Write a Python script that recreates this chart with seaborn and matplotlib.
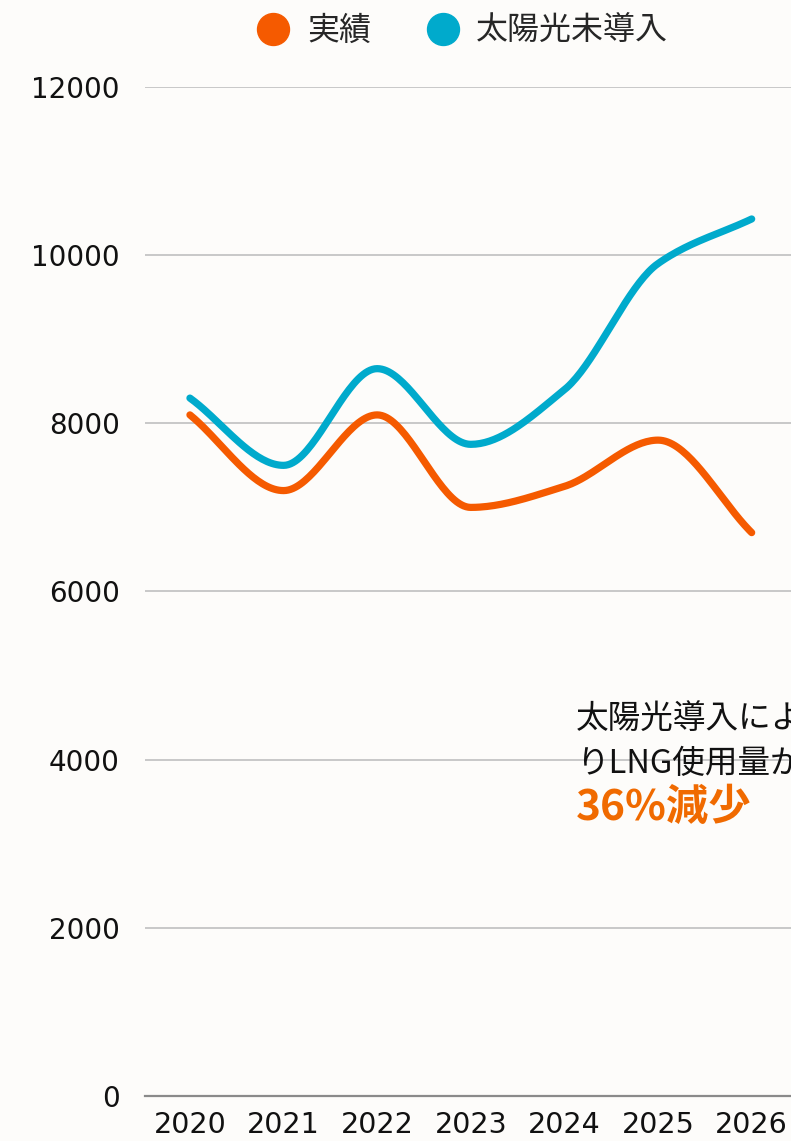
import numpy as np
import pandas as pd
import matplotlib
matplotlib.use("Agg")
import matplotlib.pyplot as plt
from matplotlib.lines import Line2D
import seaborn as sns

# データ
years = [2020, 2021, 2022, 2023, 2024, 2025, 2026]
jisseki = [8100, 7200, 8100, 7000, 7250, 7800, 6700]
minounyu = [8300, 7500, 8650, 7750, 8400, 9900, 10430]
series_names = ["実績", "太陽光未導入"]
colors = ["#F55A00", "#00AACC"]
note_lines = ["太陽光導入によ", "りLNG使用量が"]
note_big = "36%減少"
y_ticks = [0, 2000, 4000, 6000, 8000, 10000, 12000]

bg = "#FDFCFA"

sns.set_theme(style="white")
plt.rcParams["font.family"] = ["DejaVu Sans", "Noto Sans CJK JP"]


def pchip(x, y, n=40):
    # monotone cubic pour lisser la courbe
    x = np.asarray(x, float)
    y = np.asarray(y, float)
    h = np.diff(x)
    d = np.diff(y) / h
    m = np.zeros_like(y)
    for i in range(1, len(y) - 1):
        if d[i - 1] * d[i] > 0:
            w1 = 2 * h[i] + h[i - 1]
            w2 = h[i] + 2 * h[i - 1]
            m[i] = (w1 + w2) / (w1 / d[i - 1] + w2 / d[i])
    m[0] = d[0]
    m[-1] = d[-1]
    xs, ys = [], []
    for i in range(len(h)):
        t = np.linspace(0, 1, n, endpoint=(i == len(h) - 1))
        h00 = 2 * t**3 - 3 * t**2 + 1
        h10 = t**3 - 2 * t**2 + t
        h01 = -2 * t**3 + 3 * t**2
        h11 = t**3 - t**2
        xs.append(x[i] + t * h[i])
        ys.append(h00 * y[i] + h10 * h[i] * m[i] + h01 * y[i + 1] + h11 * h[i] * m[i + 1])
    return np.concatenate(xs), np.concatenate(ys)


fig = plt.figure(figsize=(7.91, 11.41), dpi=100, facecolor=bg)
ax = fig.add_axes([0.1833, 0.0394, 0.8167, 0.8844])
ax.set_facecolor(bg)

for vals, name, c in zip([jisseki, minounyu], series_names, colors):
    sx, sy = pchip(years, vals)
    df = pd.DataFrame({"year": sx, "value": sy})
    sns.lineplot(data=df, x="year", y="value", ax=ax, color=c, lw=5.2,
                 solid_capstyle="round", sort=False, estimator=None)

ax.set_xlim(2019.52, 2026.42)
ax.set_ylim(0, 12000)
ax.set_yticks(y_ticks)
ax.set_xticks(years)
ax.set_xticklabels([str(y) for y in years])
ax.set_xlabel("")
ax.set_ylabel("")
ax.tick_params(axis="y", length=0, pad=18, labelsize=20, colors="#111111")
ax.tick_params(axis="x", length=0, pad=11, labelsize=20.5, colors="#111111")
ax.grid(axis="y", color="#C4C4C4", lw=1.3)
ax.set_axisbelow(True)
for s in ["top", "right", "left"]:
    ax.spines[s].set_visible(False)
ax.spines["bottom"].set_color("#8A8A8A")
ax.spines["bottom"].set_linewidth(1.6)

# annotation (coupee au bord droit comme l'original)
jp = ["Noto Sans CJK JP", "DejaVu Sans"]
ax.text(2024.12, 4490, note_lines[0], fontsize=23.5, family=jp, color="#111111",
        va="center", ha="left", clip_on=False)
ax.text(2024.12, 3945, note_lines[1], fontsize=23.5, family=jp, color="#111111",
        va="center", ha="left", clip_on=False)
ax.text(2024.12, 3420, note_big, fontsize=30.5, family=jp, color="#F06A00",
        weight="bold", va="center", ha="left", clip_on=False)

# legende
handles = [Line2D([], [], marker="o", ls="", color=c, markersize=23) for c in colors]
leg = fig.legend(handles, series_names, loc="center", bbox_to_anchor=(0.575, 0.973),
                 ncol=2, frameon=False, handletextpad=0.05, columnspacing=1.25,
                 prop={"family": jp, "size": 23})

fig.savefig("out.png", dpi=100, facecolor=bg)
